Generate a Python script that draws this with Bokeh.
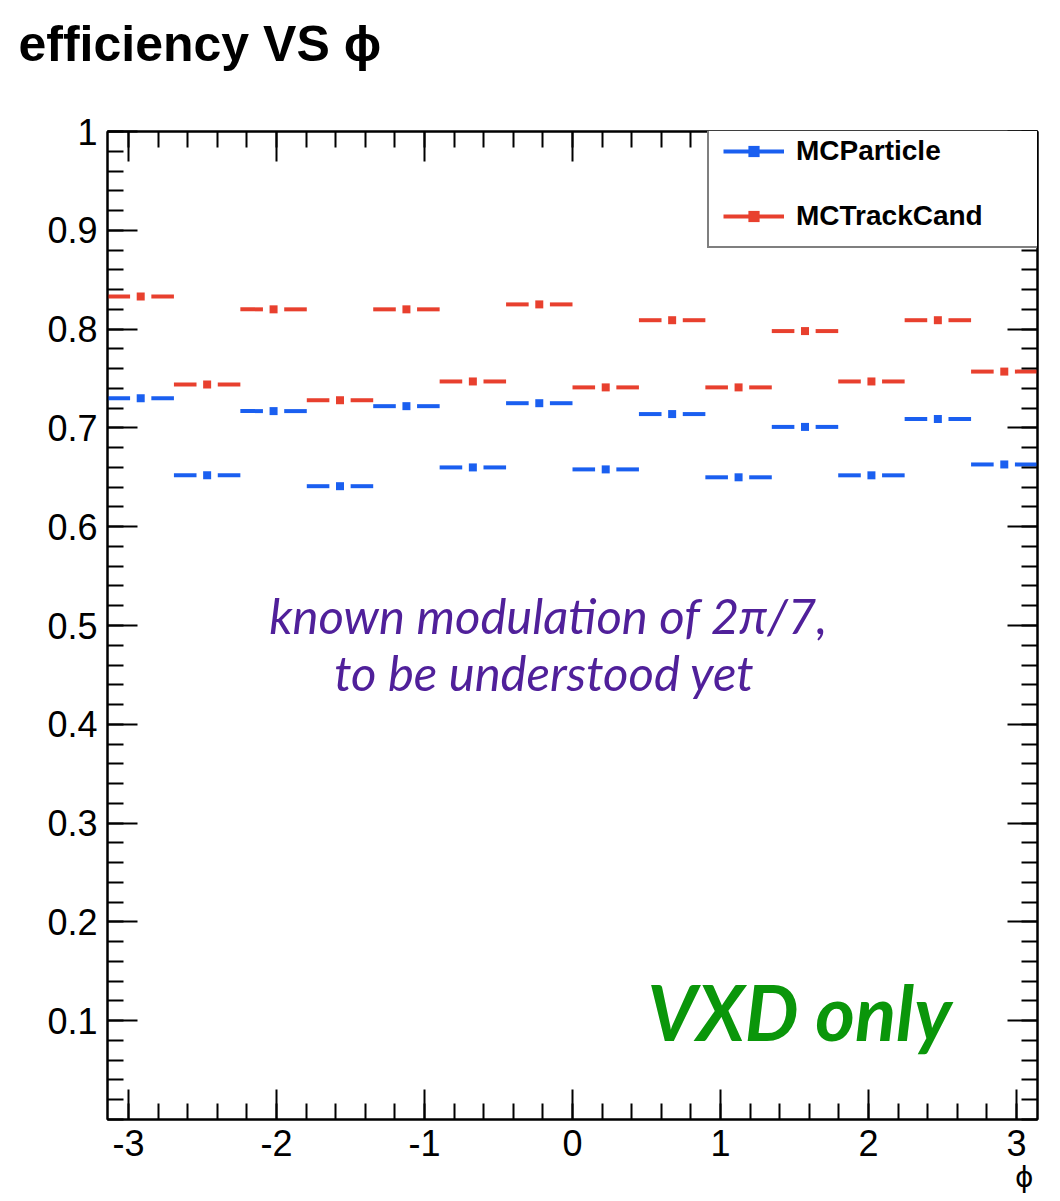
import numpy as np
from bokeh.plotting import figure
from bokeh.models import (FixedTicker, LinearAxis, Legend, LegendItem, Label,
                          Title, ColumnDataSource, CustomJSTickFormatter, Range1d)
from bokeh.embed import file_html
from bokeh.resources import INLINE

# ---------------- data ----------------
n_bins = 14
phi_min = -np.pi
phi_max = np.pi
mcparticle = [0.730, 0.652, 0.717, 0.641, 0.722, 0.660, 0.725,
              0.658, 0.714, 0.650, 0.701, 0.652, 0.709, 0.663]
mctrackcand = [0.833, 0.744, 0.820, 0.728, 0.820, 0.747, 0.825,
               0.741, 0.809, 0.741, 0.798, 0.747, 0.809, 0.757]
x_major_ticks = [-3, -2, -1, 0, 1, 2, 3]
y_major_ticks = [0.1, 0.2, 0.3, 0.4, 0.5, 0.6, 0.7, 0.8, 0.9, 1.0]
series_names = ["MCParticle", "MCTrackCand"]

BLUE = "#1a5ff0"
RED = "#e8402e"
colors = [BLUE, RED]

# ---------------- figure ----------------
p = figure(width=1060, height=1201, x_range=Range1d(phi_min, phi_max),
           y_range=Range1d(0, 1), output_backend="svg", toolbar_location=None,
           min_border_left=107, min_border_right=23, min_border_top=131,
           min_border_bottom=82, title="efficiency VS ϕ")
p.xgrid.visible = False
p.ygrid.visible = False
p.outline_line_color = "black"
p.outline_line_width = 2
p.background_fill_color = "white"
p.border_fill_color = "white"

p.title.text_font = "Liberation Sans"
p.title.text_font_style = "bold"
p.title.text_font_size = "50px"
p.title.text_color = "black"
p.title.align = "left"
p.title.offset = -89
p.title.standoff = 10

x_minor = [round(v, 2) for v in np.arange(-3.0, 3.0001, 0.2)]
y_minor = [round(v, 2) for v in np.arange(0.0, 1.0001, 0.02)]

def style_axis(ax, labels=True):
    ax.axis_line_color = "black"
    ax.axis_line_width = 2
    ax.major_tick_in = 30
    ax.major_tick_out = 0
    ax.minor_tick_in = 16
    ax.minor_tick_out = 0
    ax.major_tick_line_width = 2
    ax.minor_tick_line_width = 2
    ax.major_tick_line_color = "black"
    ax.minor_tick_line_color = "black"
    if labels:
        ax.major_label_text_font = "Liberation Sans"
        ax.major_label_text_font_size = "36px"
        ax.major_label_text_color = "black"
    else:
        ax.major_label_text_font_size = "0px"
        ax.major_label_standoff = 0

p.xaxis.ticker = FixedTicker(ticks=x_major_ticks, minor_ticks=x_minor)
p.xaxis.formatter = CustomJSTickFormatter(code="return tick.toFixed(0);")
p.yaxis.ticker = FixedTicker(ticks=y_major_ticks, minor_ticks=y_minor)
p.yaxis.formatter = CustomJSTickFormatter(
    code="return (Math.abs(tick-1)<1e-9) ? '1' : tick.toFixed(1);")
for ax in p.xaxis:
    style_axis(ax)
    ax.major_label_standoff = 10
for ax in p.yaxis:
    style_axis(ax)
    ax.major_label_standoff = 10

# mirrored axes (ROOT style ticks on all sides); the top one's blank labels
# reserve the room that keeps the title up in the top margin
top_ax = LinearAxis(ticker=FixedTicker(ticks=x_major_ticks, minor_ticks=x_minor),
                    formatter=CustomJSTickFormatter(code="return ' ';"))
style_axis(top_ax, labels=True)
top_ax.major_label_text_font_size = "10px"
top_ax.major_label_standoff = 41
p.add_layout(top_ax, "above")
right_ax = LinearAxis(ticker=FixedTicker(ticks=y_major_ticks, minor_ticks=y_minor),
                      formatter=CustomJSTickFormatter(code="return '';"))
style_axis(right_ax, labels=False)
p.add_layout(right_ax, "right")

# x-axis title, bottom right
p.add_layout(Title(text="ϕ", align="right", offset=4, standoff=0,
                   text_font="DejaVu Sans", text_font_style="normal",
                   text_font_size="28px", text_color="black"), "below")

# ---------------- histogram-like marks ----------------
edges = np.linspace(phi_min, phi_max, n_bins + 1)
lo = edges[:-1]
hi = edges[1:]
ctr = 0.5 * (lo + hi)
w = hi - lo
gap = 0.16 * w

leg_items = []
for name, vals, col in zip(series_names, [mcparticle, mctrackcand], colors):
    vals = np.asarray(vals)
    src = ColumnDataSource(dict(
        x0=np.concatenate([lo, ctr + gap]),
        x1=np.concatenate([ctr - gap, hi]),
        y=np.concatenate([vals, vals]),
    ))
    seg = p.segment(x0="x0", y0="y", x1="x1", y1="y", source=src,
                    line_color=col, line_width=4)
    sc = p.scatter(x=ctr, y=vals, marker="square", size=8,
                   fill_color=col, line_color=col, line_width=0)
    leg_items.append(LegendItem(label=name, renderers=[seg, sc]))

legend = Legend(items=leg_items, location=(600, 871), orientation="vertical",
                glyph_width=61, glyph_height=28, label_height=28,
                label_width=300, label_standoff=12, spacing=33, padding=14,
                margin=0,
                label_text_font="Liberation Sans", label_text_font_style="bold",
                label_text_font_size="28px", label_text_color="black",
                border_line_color="black", border_line_width=2,
                background_fill_color="white", background_fill_alpha=1.0)
p.add_layout(legend)

# ---------------- in-frame texts ----------------
p.add_layout(Label(x=441, y=505, x_units="screen", y_units="screen",
                   text="known modulation of 2π/7,", text_font="Lato",
                   text_font_style="italic", text_font_size="49px",
                   text_color="#50209a", text_align="center",
                   text_baseline="alphabetic"))
p.add_layout(Label(x=437, y=448, x_units="screen", y_units="screen",
                   text="to be understood yet", text_font="Lato",
                   text_font_style="italic", text_font_size="49px",
                   text_color="#50209a", text_align="center",
                   text_baseline="alphabetic"))
p.add_layout(Label(x=540, y=108, x_units="screen", y_units="screen",
                   text="VXD only", text_font="Lato",
                   text_font_style="bold italic", text_font_size="76px",
                   text_color="#0a960a", text_baseline="alphabetic"))

open("out.html", "w").write(file_html(p, INLINE))
